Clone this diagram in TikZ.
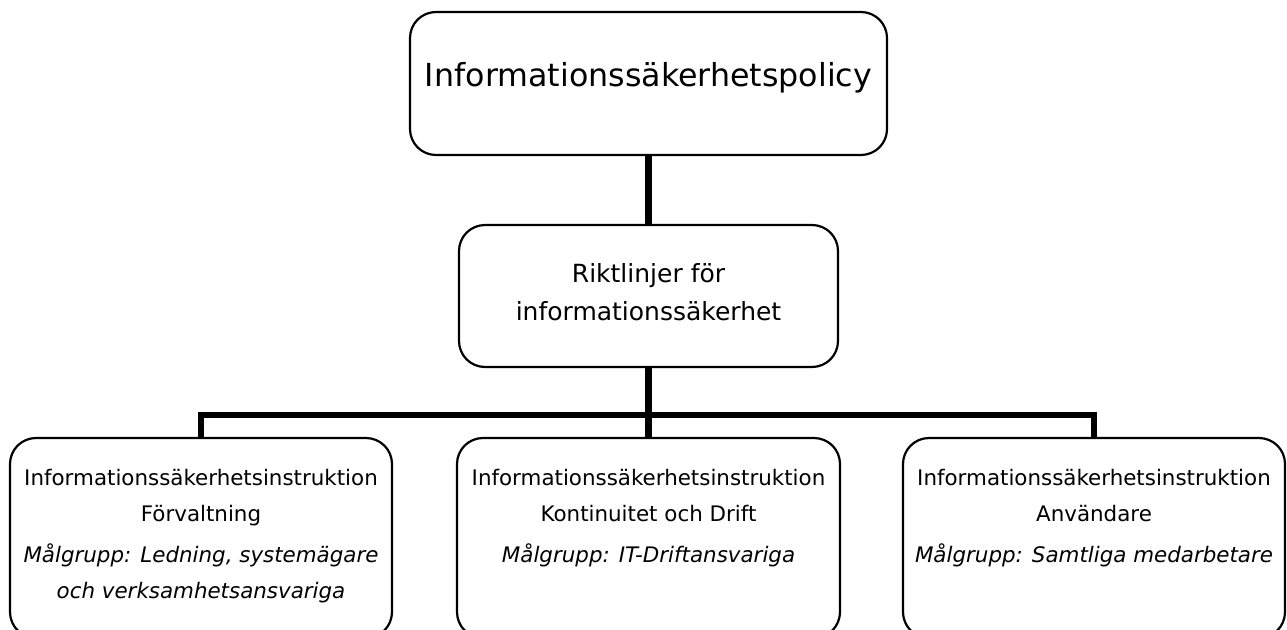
\documentclass[tikz,border=0pt]{standalone}
\usepackage{fontspec}
\setmainfont{DejaVu Sans}
\usetikzlibrary{positioning}

\begin{document}
\begin{tikzpicture}[
    x=1pt, y=1pt,
    every node/.style={inner sep=0pt, align=center},
    docbox/.style={draw, rectangle, rounded corners=26pt, fill=white, line width=2.2pt},
    connector/.style={line width=6.5pt},
    bigtext/.style={font=\fontsize{31.7}{38}\selectfont},
    midtext/.style={font=\fontsize{25}{38}\selectfont},
    smalltext/.style={font=\fontsize{21.4}{36.5}\selectfont}
]

    \useasboundingbox (0,0) rectangle (1287,-629);

    % --------------------------------------------------------
    % 1. DEFINE DOCUMENT BOXES
    % --------------------------------------------------------

    % Policy
    \node (policy) [docbox, minimum width=477, minimum height=143] at (648.5,-83.5) {};
    \node (policytext) [bigtext, below=51pt of policy.north] {Informationssäkerhetspolicy};

    % Riktlinjer
    \node (guide) [docbox, minimum width=379, minimum height=142] at (648.5,-296) {};
    \node (guidetext) [midtext, below=39pt of guide.north] {Riktlinjer för\\informationssäkerhet};

    % Instruktioner
    \node (admin) [docbox, minimum width=382, minimum height=200] at (201,-538) {};
    \node (admintext) [smalltext, below=32pt of admin.north] {Informationssäkerhetsinstruktion\\Förvaltning\\[4pt]
        \itshape Målgrupp: Ledning, systemägare\\\itshape och verksamhetsansvariga};

    \node (ops) [docbox, minimum width=383, minimum height=200] at (648.5,-538) {};
    \node (opstext) [smalltext, below=32pt of ops.north] {Informationssäkerhetsinstruktion\\Kontinuitet och Drift\\[4pt]
        \itshape Målgrupp: IT-Driftansvariga};

    \node (users) [docbox, minimum width=382, minimum height=200] at (1094,-538) {};
    \node (userstext) [smalltext, below=32pt of users.north] {Informationssäkerhetsinstruktion\\Användare\\[4pt]
        \itshape Målgrupp: Samtliga medarbetare};

    % --------------------------------------------------------
    % 2. DEFINE CONNECTIONS
    % --------------------------------------------------------

    \draw [connector] (policy) -- (guide);
    \draw [connector] (guide.south) -- ++(0,-47) coordinate (bus);
    \draw [connector] (bus) -| (admin.north);
    \draw [connector] (bus) -- (ops.north);
    \draw [connector] (bus) -| (users.north);

\end{tikzpicture}
\end{document}
